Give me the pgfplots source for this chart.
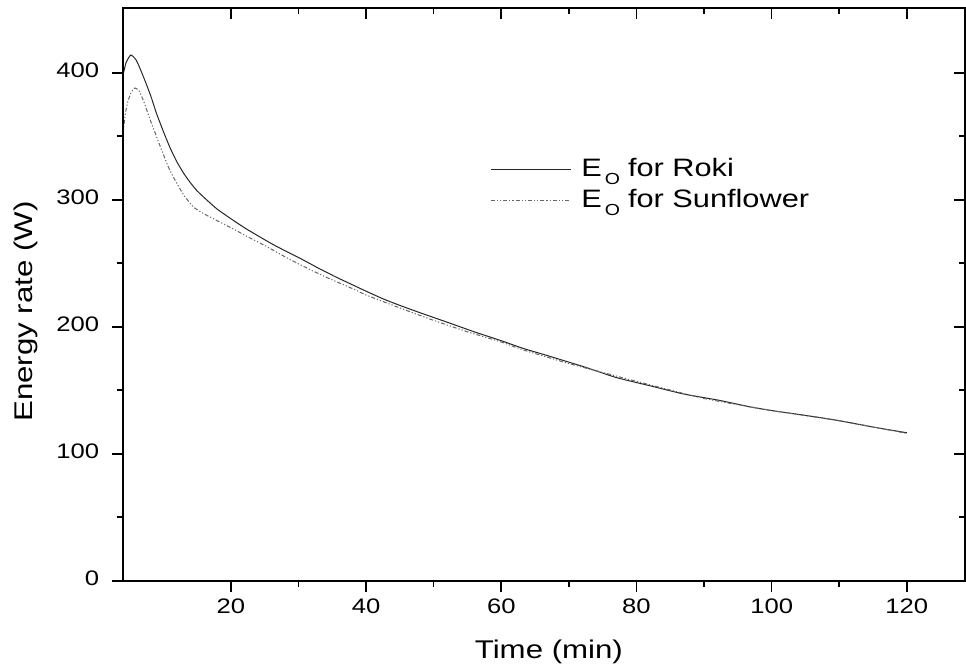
\documentclass[border=0pt]{standalone}
\usepackage{fontspec}
\setmainfont{Liberation Sans}[FakeStretch=1.22]
\usepackage{pgfplots}
\pgfplotsset{compat=1.18}
\pgfplotstableread{
x y
4.0 397
4.5 408
5.2 414
6.0 410
6.75 401
7.5 391
8.2 381
9.0 368
10.0 354
11.0 341
12.0 330
13.0 321
14.0 313.5
15.0 307
16.4 300
18.0 292.5
20.3 284
22.0 278
24.2 271
26.5 264
28.7 258
30.2 254
33.0 246
35.6 239
37.6 234
40.0 228
42.5 222
44.9 217
48.0 211
52.3 203
56.0 196
60.0 189
63.2 183
67.0 177
72.5 168
77.0 160
82.4 153
87.0 147
92.3 142
96.7 137
100.0 134
106.5 129
110.0 126
115.0 121
120.0 116.5
}\roki
\pgfplotstableread{
x y
4.0 350
4.4 368
4.8 378
5.3 385
5.8 388
6.4 386
7.0 379
7.6 370
8.2 361
8.7 354
9.7 340
10.9 324
12.0 313
13.0 304
14.4 294.5
16.0 289
17.8 284
20.0 278
22.8 270
25.0 264
27.7 256
30.2 249
34.1 239
38.0 230
40.0 225
44.9 215
50.0 205
55.0 196
60.0 188
63.1 182
70.0 171
75.0 164
80.0 157
90.0 143.5
100.0 134
110.0 126
120.0 116
}\sunf
\begin{document}
\begin{tikzpicture}
\pgfplotsset{
  commonax/.style={
    at={(0pt,0pt)}, anchor=south west,
    scale only axis, width=421.15pt, height=286.35pt,
    xmin=4, xmax=128.6, ymin=0, ymax=451,
    xtick={20,40,...,120}, ytick={0,100,...,400},
    minor x tick num=1, minor y tick num=1,
    major tick length=5.5pt, minor tick length=3pt,
    axis line style={line width=1pt},
    every tick/.style={black, line width=0.8pt},
    /pgf/number format/assume math mode=true,
    ticklabel style={font=\fontsize{10.5}{12}\selectfont},
  }
}
\begin{axis}[commonax, name=ax,
  xtick pos=left, ytick pos=left, tick align=outside,
  yticklabel style={xshift=-2.8pt, yshift=1pt},
  xlabel={Time (min)}, ylabel={Energy rate (W)},
  xlabel style={at={(axis description cs:0.506,-0.1351)}, anchor=base, font=\fontsize{12.8}{14}\selectfont},
  ylabel style={at={(axis description cs:-0.1065,0.47)}, anchor=base, font=\fontsize{12.8}{14}\selectfont},
  legend style={draw=none, fill=none, at={(axis description cs:0.436,0.745)}, anchor=north west,
    font=\fontsize{12.6}{14}\selectfont, row sep=1pt, inner sep=0pt, cells={anchor=west}},
  legend image code/.code={\draw[#1] (0pt,0pt) -- (40pt,0pt); \path (43pt,0pt);},
]
\addplot[black!85, line width=0.5pt, smooth, tension=0.3] table[x=x,y=y] {\roki};
\addlegendentry{E\hspace{1.5pt}\raisebox{-3.8pt}{\fontsize{8}{8}\selectfont O}\hspace{4pt}for Roki}
\addplot[black!60, line width=0.5pt, smooth, tension=0.3, dash pattern={on 2pt off 1pt on 0.6pt off 1pt on 0.6pt off 1pt}] table[x=x,y=y] {\sunf};
\addlegendentry{E\hspace{1.5pt}\raisebox{-3.8pt}{\fontsize{8}{8}\selectfont O}\hspace{4pt}for Sunflower}
\end{axis}
\begin{axis}[commonax, xtick pos=right, ytick pos=right, tick align=inside,
  xticklabels={}, yticklabels={}]
\end{axis}
\pgfresetboundingbox
\path[use as bounding box] (-61.35pt,-42.65pt) rectangle (421.65pt,290.35pt);
\end{tikzpicture}
\end{document}
